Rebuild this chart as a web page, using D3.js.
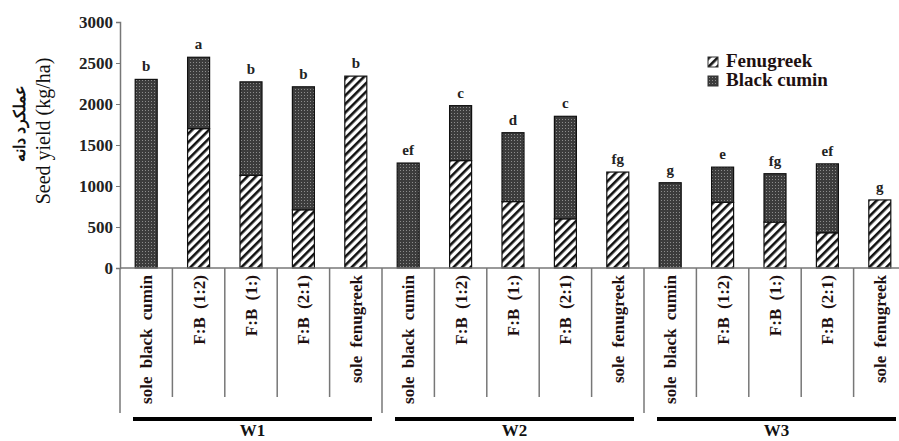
<!DOCTYPE html>
<html>
<head>
<meta charset="utf-8">
<script src="https://cdn.jsdelivr.net/npm/d3@7"></script>
<style>
  body { margin: 0; background: #fff; }
  svg { display: block; }
  svg text { font-family: "Liberation Serif", "Times New Roman", serif; }
</style>
</head>
<body>
<svg id="drawing_region"></svg>
<script>
// data
const groups = ["W1", "W2", "W3"];
const treatments = ["sole black cumin", "F:B (1:2)", "F:B (1:)", "F:B (2:1)", "sole fenugreek"];
const fenugreek  = [0, 1700, 1130, 710, 2340,   0, 1310, 810, 600, 1170,   0, 800, 560, 430, 830];
const blackCumin = [2300, 870, 1140, 1500, 0,   1280, 670, 840, 1250, 0,   1040, 430, 590, 840, 0];
const letters = ["b", "a", "b", "b", "b", "ef", "c", "d", "c", "fg", "g", "e", "fg", "ef", "g"];
const yTicks = [0, 500, 1000, 1500, 2000, 2500, 3000];

const config = {
    width: 899, height: 441,
    margin: {top: 22, right: -7, bottom: 173, left: 120}
};

const rows = [];
groups.forEach((g, gi) => treatments.forEach((t, ti) => {
    const i = gi * treatments.length + ti;
    rows.push({key: g + "|" + t, group: g, label: t, fen: fenugreek[i], bc: blackCumin[i], letter: letters[i]});
}));

const svg = d3.select("#drawing_region")
    .attr("width", config.width)
    .attr("height", config.height);

const inner_width = config.width - config.margin.left - config.margin.right;
const inner_height = config.height - config.margin.top - config.margin.bottom;

// patterns
const defs = svg.append("defs");
const dots = defs.append("pattern")
    .attr("id", "dots").attr("patternUnits", "userSpaceOnUse")
    .attr("width", 3).attr("height", 3);
dots.append("rect").attr("width", 3).attr("height", 3).attr("fill", "#3c3c3c");
dots.append("rect").attr("x", 1).attr("y", 1).attr("width", 1).attr("height", 1).attr("fill", "#8c8c8c");

const hatch = defs.append("pattern")
    .attr("id", "hatch").attr("patternUnits", "userSpaceOnUse")
    .attr("width", 6).attr("height", 6)
    .attr("patternTransform", "rotate(45)");
hatch.append("rect").attr("width", 6).attr("height", 6).attr("fill", "#fff");
hatch.append("rect").attr("x", 0).attr("y", 0).attr("width", 2.6).attr("height", 6).attr("fill", "#111");

const chart = svg.append("g")
    .attr("transform", `translate(${config.margin.left}, ${config.margin.top})`);

const x = d3.scaleBand()
    .domain(rows.map(d => d.key))
    .range([0, inner_width])
    .padding(0);

const y = d3.scaleLinear()
    .domain([0, 3000])
    .range([inner_height, 0]);

const barW = x.bandwidth() * 0.42;

const series = d3.stack().keys(["fen", "bc"])(rows);
const fills = {fen: "url(#hatch)", bc: "url(#dots)"};

chart.selectAll("g.series")
    .data(series)
    .join("g")
    .attr("class", "series")
    .attr("fill", s => fills[s.key])
    .selectAll("rect")
    .data(s => s.filter(d => d[1] > d[0]))
    .join("rect")
    .attr("x", d => x(d.data.key) + (x.bandwidth() - barW) / 2)
    .attr("y", d => y(d[1]))
    .attr("width", barW)
    .attr("height", d => y(d[0]) - y(d[1]))
    .attr("stroke", "#111")
    .attr("stroke-width", 1.2);

// significance letters
chart.selectAll("text.letter")
    .data(rows)
    .join("text")
    .attr("class", "letter")
    .attr("x", d => x(d.key) + x.bandwidth() / 2)
    .attr("y", d => y(d.fen + d.bc) - 8)
    .attr("text-anchor", "middle")
    .attr("font-size", "15px")
    .attr("font-weight", "bold")
    .attr("fill", "#222")
    .text(d => d.letter);

// y axis
const yAxis = chart.append("g")
    .call(d3.axisLeft(y).tickValues(yTicks).tickFormat(d3.format("d")).tickSize(4).tickPadding(3));
yAxis.attr("font-family", null);
yAxis.select(".domain").attr("stroke", "#777").attr("stroke-width", 1.5);
yAxis.selectAll(".tick line").attr("stroke", "#777");
yAxis.selectAll(".tick text")
    .attr("font-size", "17px")
    .attr("font-weight", "bold")
    .attr("fill", "#222");

// baseline
chart.append("line")
    .attr("x1", 0).attr("x2", inner_width)
    .attr("y1", y(0)).attr("y2", y(0))
    .attr("stroke", "#777").attr("stroke-width", 1.5);

// category separators below the axis
const groupSize = treatments.length;
const bounds = d3.range(rows.length + 1);
chart.selectAll("line.sep")
    .data(bounds)
    .join("line")
    .attr("class", "sep")
    .attr("x1", i => i * x.step())
    .attr("x2", i => i * x.step())
    .attr("y1", y(0))
    .attr("y2", i => y(0) + (i % groupSize === 0 ? 145 : 129))
    .attr("stroke", "#777")
    .attr("stroke-width", 1.5);

// category labels
chart.selectAll("text.cat")
    .data(rows)
    .join("text")
    .attr("class", "cat")
    .attr("transform", d => `translate(${x(d.key) + x.bandwidth() / 2 + 6}, ${y(0) + 7}) rotate(-90)`)
    .attr("text-anchor", "end")
    .attr("font-size", "17px")
    .attr("font-weight", "bold")
    .attr("word-spacing", "4px")
    .attr("fill", "#1e1010")
    .text(d => d.label);

// group bars and labels
const groupInfo = groups.map((g, gi) => {
    const first = x(rows[gi * groupSize].key);
    const last = x(rows[gi * groupSize + groupSize - 1].key) + x.bandwidth();
    return {name: g, x0: first + 13, x1: last - 10};
});

chart.selectAll("line.grp")
    .data(groupInfo)
    .join("line")
    .attr("class", "grp")
    .attr("x1", d => d.x0).attr("x2", d => d.x1)
    .attr("y1", y(0) + 151).attr("y2", y(0) + 151)
    .attr("stroke", "#000").attr("stroke-width", 4);

chart.selectAll("text.grp")
    .data(groupInfo)
    .join("text")
    .attr("class", "grp")
    .attr("x", d => (d.x0 + d.x1) / 2)
    .attr("y", y(0) + 168)
    .attr("text-anchor", "middle")
    .attr("font-size", "17px")
    .attr("font-weight", "bold")
    .attr("fill", "#111")
    .text(d => d.name);

// y axis title
const yTitle = svg.append("g")
    .attr("transform", `translate(0, ${config.margin.top + inner_height / 2 - 14}) rotate(-90)`);
yTitle.append("text")
    .attr("x", 8).attr("y", 25)
    .attr("text-anchor", "middle")
    .attr("font-size", "16px")
    .attr("font-weight", "bold")
    .attr("fill", "#111")
    .text("عملکرد دانه");
yTitle.append("text")
    .attr("x", 0).attr("y", 50)
    .attr("text-anchor", "middle")
    .attr("font-size", "20px")
    .attr("fill", "#111")
    .text("Seed yield (kg/ha)");

// legend
const legendItems = [
    {name: "Fenugreek", fill: "url(#hatch)"},
    {name: "Black cumin", fill: "url(#dots)"}
];
const legend = svg.append("g")
    .attr("transform", "translate(708, 57)");
const li = legend.selectAll("g")
    .data(legendItems)
    .join("g")
    .attr("transform", (d, i) => `translate(0, ${i * 19})`);
li.append("rect")
    .attr("width", 10).attr("height", 10)
    .attr("fill", d => d.fill)
    .attr("stroke", "#333").attr("stroke-width", 1);
li.append("text")
    .attr("x", 18).attr("y", 10)
    .attr("font-size", "19px")
    .attr("font-weight", "bold")
    .attr("fill", "#1e1010")
    .text(d => d.name);
</script>
</body>
</html>
